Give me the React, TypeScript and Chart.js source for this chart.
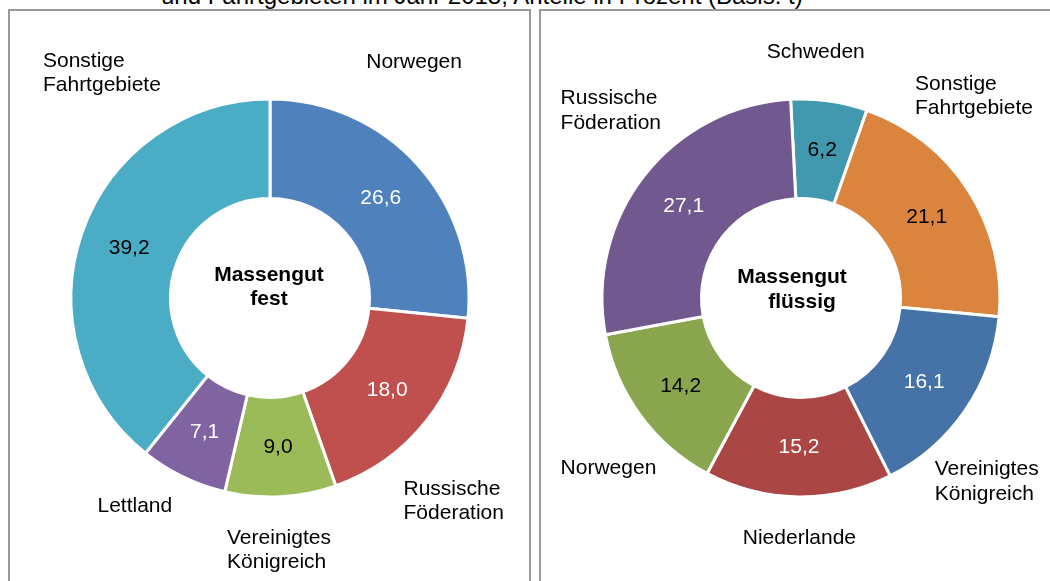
import React, { useEffect, useRef } from "react";
import Chart from "chart.js/auto";

// ---- Text ----
const titleText = "und Fahrtgebieten im Jahr 2018, Anteile in Prozent (Basis: t)";

// ---- Data: Massengut fest ----
const fixedCategories = ["Norwegen", "Russische Föderation", "Vereinigtes Königreich", "Lettland", "Sonstige Fahrtgebiete"];
const fixedValues = [26.6, 18.0, 9.0, 7.1, 39.2];
const fixedCenterLines = ["Massengut", "fest"];

// ---- Data: Massengut flüssig ----
const liquidCategories = ["Schweden", "Sonstige Fahrtgebiete", "Vereinigtes Königreich", "Niederlande", "Norwegen", "Russische Föderation"];
const liquidValues = [6.2, 21.1, 16.1, 15.2, 14.2, 27.1];
const liquidCenterLines = ["Massengut", "flüssig"];

// ---- Styles ----
const fixedColors = ["#4F81BD", "#C0504D", "#9BBB59", "#8064A2", "#4BACC6"];
const fixedValueTextColors = ["#ffffff", "#ffffff", "#000000", "#ffffff", "#000000"];
const liquidColors = ["#4198AF", "#DB843D", "#4572A7", "#AA4643", "#89A54E", "#71588F"];
const liquidValueTextColors = ["#000000", "#000000", "#ffffff", "#ffffff", "#000000", "#ffffff"];

const FONT_FAMILY = '"Liberation Sans", Arial, Helvetica, sans-serif';
const FONT_SIZE = 21;
const LINE_HEIGHT = 24.2;

// ---- Layout: category label placement relative to ring centre (outer-radius units) ----
type Placement = { fx: number; fy: number; align: CanvasTextAlign };
const fixedLabelPlacement: Placement[] = [
  { fx: 0.724, fy: -1.154, align: "center" },
  { fx: 0.671, fy: 0.99, align: "left" },
  { fx: -0.216, fy: 1.237, align: "left" },
  { fx: -0.867, fy: 1.075, align: "left" },
  { fx: -1.141, fy: -1.163, align: "left" },
];
const liquidLabelPlacement: Placement[] = [
  { fx: 0.074, fy: -1.206, align: "center" },
  { fx: 0.573, fy: -1.047, align: "left" },
  { fx: 0.672, fy: 0.891, align: "left" },
  { fx: -0.008, fy: 1.237, align: "center" },
  { fx: -1.208, fy: 0.882, align: "left" },
  { fx: -1.208, fy: -0.973, align: "left" },
];
const fixedCenterOffsets = [{ dx: -1, dy: -17 }, { dx: -1, dy: 7 }];
const liquidCenterOffsets = [{ dx: -9, dy: -15 }, { dx: 1, dy: 10 }];

const fmt = (v: number) => v.toFixed(1).replace(".", ",");

type DonutProps = {
  categories: string[];
  values: number[];
  colors: string[];
  valueTextColors: string[];
  placement: Placement[];
  centerLines: string[];
  centerOffsets: { dx: number; dy: number }[];
  rotation: number;
  left: number;
  width: number;
  padding: { left: number; right: number; top: number; bottom: number };
};

function Donut(props: DonutProps) {
  const ref = useRef<HTMLCanvasElement | null>(null);
  useEffect(() => {
    const canvas = ref.current;
    if (!canvas) return;
    const labelPlugin = {
      id: "donutLabels",
      afterDatasetsDraw(chart: any) {
        const ctx = chart.ctx as CanvasRenderingContext2D;
        const meta = chart.getDatasetMeta(0);
        const arcs = meta.data as any[];
        if (!arcs.length) return;
        const cx = arcs[0].x;
        const cy = arcs[0].y;
        const R = arcs[0].outerRadius;
        ctx.save();
        // values inside ring
        ctx.font = `${FONT_SIZE}px ${FONT_FAMILY}`;
        ctx.textAlign = "center";
        ctx.textBaseline = "middle";
        arcs.forEach((arc, i) => {
          const p = arc.getCenterPoint();
          ctx.fillStyle = props.valueTextColors[i];
          ctx.fillText(fmt(props.values[i]), p.x, p.y);
        });
        // category labels outside
        ctx.textBaseline = "alphabetic";
        ctx.fillStyle = "#000000";
        props.categories.forEach((cat, i) => {
          const pl = props.placement[i];
          const lines = cat.split(" ");
          ctx.textAlign = pl.align;
          const x = cx + pl.fx * R;
          const y = cy + pl.fy * R;
          lines.forEach((ln, j) => ctx.fillText(ln, x, y + j * LINE_HEIGHT));
        });
        // centre text
        ctx.font = `bold ${FONT_SIZE}px ${FONT_FAMILY}`;
        ctx.textAlign = "center";
        props.centerLines.forEach((ln, j) => {
          const o = props.centerOffsets[j];
          ctx.fillText(ln, cx + o.dx, cy + o.dy);
        });
        ctx.restore();
      },
    };
    const chart = new Chart(canvas, {
      type: "doughnut",
      data: {
        labels: props.categories,
        datasets: [
          {
            data: props.values,
            backgroundColor: props.colors,
            borderColor: "#ffffff",
            borderWidth: 3,
            hoverOffset: 0,
          },
        ],
      },
      options: {
        responsive: false,
        maintainAspectRatio: false,
        animation: false,
        events: [],
        cutout: "50%",
        rotation: props.rotation,
        layout: { padding: props.padding },
        plugins: {
          legend: { display: false },
          tooltip: { enabled: false },
          title: { display: false },
        },
      },
      plugins: [labelPlugin],
    });
    return () => chart.destroy();
  }, []);
  return (
    <canvas
      ref={ref}
      width={props.width}
      height={581}
      style={{
        position: "absolute",
        left: props.left,
        top: 0,
        width: props.width,
        height: 581,
        display: "block",
      }}
    />
  );
}

export default function App() {
  return (
    <div
      style={{
        position: "absolute",
        left: 0,
        top: 0,
        width: 1050,
        height: 581,
        overflow: "hidden",
        background: "#ffffff",
      }}
    >
      <div
        style={{
          position: "absolute",
          left: 161,
          top: -16.3,
          fontFamily: FONT_FAMILY,
          fontSize: 24,
          lineHeight: "24px",
          whiteSpace: "nowrap",
          color: "#000",
        }}
      >
        {titleText}
      </div>
      <div
        style={{
          position: "absolute",
          left: 8,
          top: 9,
          width: 519,
          height: 620,
          border: "2px solid #9a9a9a",
        }}
      />
      <div
        style={{
          position: "absolute",
          left: 539,
          top: 9,
          width: 620,
          height: 620,
          border: "2px solid #9a9a9a",
        }}
      />
      <Donut
        categories={fixedCategories}
        values={fixedValues}
        colors={fixedColors}
        valueTextColors={fixedValueTextColors}
        placement={fixedLabelPlacement}
        centerLines={fixedCenterLines}
        centerOffsets={fixedCenterOffsets}
        rotation={0}
        left={0}
        width={535}
        padding={{ left: 69.5, right: 64.5, top: 97.5, bottom: 82.5 }}
      />
      <Donut
        categories={liquidCategories}
        values={liquidValues}
        colors={liquidColors}
        valueTextColors={liquidValueTextColors}
        placement={liquidLabelPlacement}
        centerLines={liquidCenterLines}
        centerOffsets={liquidCenterOffsets}
        rotation={-3}
        left={535}
        width={515}
        padding={{ left: 65.5, right: 48.5, top: 97.5, bottom: 82.5 }}
      />
    </div>
  );
}
